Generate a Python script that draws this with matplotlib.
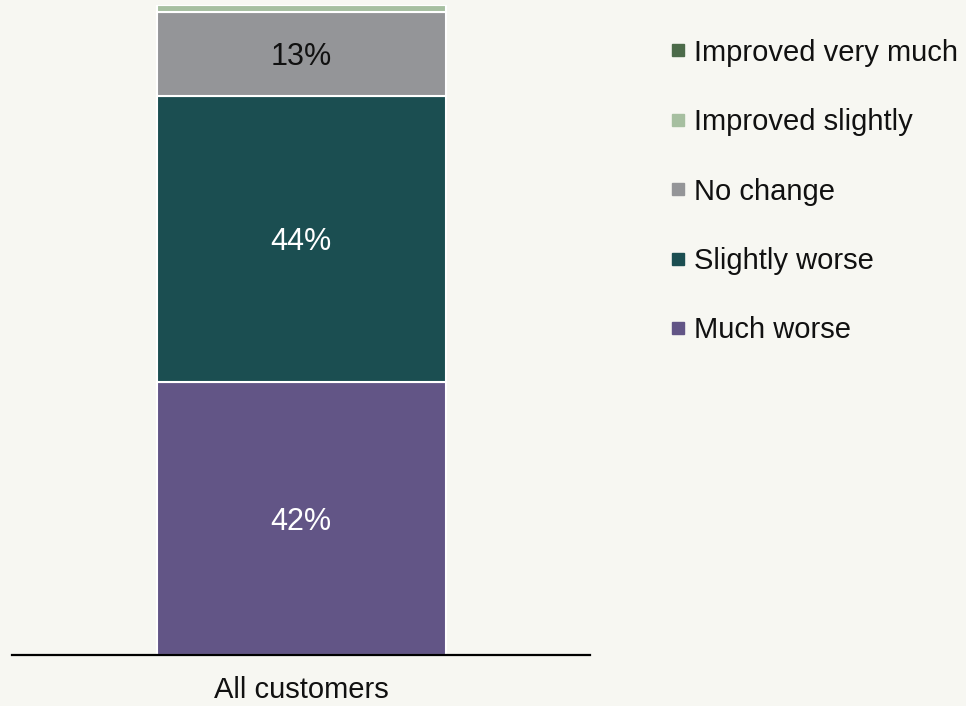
import matplotlib.pyplot as plt
from matplotlib.lines import Line2D

plt.rcParams['font.family'] = ['Liberation Sans', 'DejaVu Sans']

# Survey shares (%) for the single group, bottom to top
group = ["All customers"]
categories = ["Much worse", "Slightly worse", "No change",
              "Improved slightly", "Improved very much"]
shares = [42, 44, 13, 1, 0]
colors = ["#625586", "#1b4e51", "#949598", "#a6bfa0", "#4c6b4a"]
text_colors = ["white", "white", "#111111", "#111111", "#111111"]

BG = "#f7f7f2"

fig = plt.figure(figsize=(9.66, 7.06), dpi=100, facecolor=BG)
ax = fig.add_axes([12 / 966, 51 / 706, 578 / 966, 650 / 706])
ax.set_facecolor(BG)

bottom = 0
for cat, val, col, tcol in zip(categories, shares, colors, text_colors):
    ax.bar(group, val, bottom=bottom, width=0.5, color=col,
           edgecolor="white", linewidth=1.5, label=cat)
    if val >= 5:
        ax.text(0, bottom + val / 2, f"{val}%", ha="center",
                va="center_baseline", fontsize=22, color=tcol)
    bottom += val

ax.set_xlim(-0.5, 0.5)
ax.set_ylim(0, 100)
ax.set_yticks([])
for side in ["left", "right", "top"]:
    ax.spines[side].set_visible(False)
ax.spines["bottom"].set_linewidth(1.6)
ax.spines["bottom"].set_color("black")
ax.tick_params(axis="x", length=0, pad=15, labelsize=21, labelcolor="#111111")

# Legend, top category first
handles = [Line2D([], [], marker="s", linestyle="none", markersize=8.5,
                  color=c) for c in colors[::-1]]
leg = fig.legend(handles, categories[::-1], loc="upper left",
                 bbox_to_anchor=(658 / 966, 1 - 27 / 706), frameon=False,
                 fontsize=21, handlelength=0.6, handletextpad=0.25,
                 labelspacing=1.42, borderaxespad=0, labelcolor="#111111")

fig.savefig("out.png", dpi=100, facecolor=BG)
